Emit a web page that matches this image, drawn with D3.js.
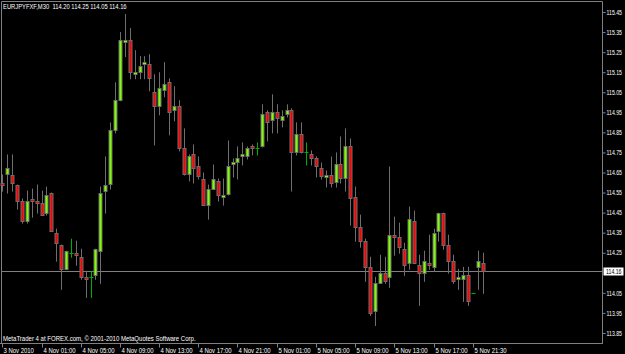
<!DOCTYPE html>
<html>
<head>
<meta charset="utf-8">
<script src="https://cdn.jsdelivr.net/npm/d3@7"></script>
<style>
  html, body { margin: 0; padding: 0; background: #000; }
  svg { display: block; }
  text { font-family: "Liberation Sans", Arial, sans-serif; font-size: 7px; fill: #fff; }
</style>
</head>
<body>
<svg id="chart" width="625" height="354"></svg>
<script>
// EURJPY M30, 3 Nov 2010 21:00 -> 5 Nov 22:30 (one bar per half hour)
const opens = [
  114.60, 114.64, 114.64, 114.59, 114.51, 114.41, 114.52, 114.51, 114.50, 114.45,
  114.55, 114.35, 114.29, 114.17, 114.25, 114.25, 114.23, 114.13, 114.13, 114.14,
  114.26, 114.56, 114.59, 114.86, 115.01, 115.30, 115.31, 115.14, 115.15, 115.19,
  115.19, 115.05, 114.98, 115.06, 115.10, 114.96, 114.98, 114.77, 114.64, 114.74,
  114.68, 114.62, 114.49, 114.57, 114.61, 114.53, 114.54, 114.69, 114.70, 114.73,
  114.73, 114.78, 114.77, 114.78, 114.95, 114.91, 114.95, 114.91, 114.94, 114.96,
  114.75, 114.84, 114.75, 114.74, 114.72, 114.67, 114.63, 114.64, 114.60, 114.69,
  114.62, 114.78, 114.53, 114.38, 114.31, 114.18, 113.96, 114.10, 114.15, 114.13,
  114.34, 114.33, 114.27, 114.20, 114.41, 114.19, 114.15, 114.20, 114.18, 114.36,
  114.45, 114.29, 114.21, 114.12, 114.12, 114.14, 114.05, 114.18, 114.20
];
const highs = [
  114.64, 114.74, 114.74, 114.59, 114.52, 114.56, 114.57, 114.59, 114.56, 114.58,
  114.55, 114.37, 114.29, 114.26, 114.32, 114.31, 114.27, 114.16, 114.16, 114.27,
  114.58, 114.73, 114.90, 115.10, 115.35, 115.44, 115.37, 115.26, 115.23, 115.23,
  115.24, 115.14, 115.15, 115.20, 115.12, 115.08, 115.01, 114.87, 114.74, 114.79,
  114.73, 114.65, 114.59, 114.69, 114.62, 114.62, 114.81, 114.72, 114.78, 114.80,
  114.78, 114.79, 114.80, 114.99, 114.96, 115.04, 114.99, 114.96, 114.99, 114.97,
  114.90, 114.90, 114.80, 114.76, 114.73, 114.70, 114.66, 114.73, 114.75, 114.83,
  114.87, 114.82, 114.58, 114.44, 114.32, 114.23, 114.13, 114.24, 114.23, 114.68,
  114.43, 114.40, 114.30, 114.48, 114.46, 114.24, 114.26, 114.34, 114.37, 114.45,
  114.45, 114.34, 114.24, 114.17, 114.18, 114.18, 114.05, 114.26, 114.25
];
const lows = [
  114.56, 114.55, 114.56, 114.47, 114.40, 114.40, 114.43, 114.45, 114.44, 114.44,
  114.36, 114.21, 114.07, 114.17, 114.23, 114.19, 114.12, 114.03, 114.03, 114.12,
  114.10, 114.45, 114.57, 114.85, 115.01, 115.23, 115.12, 115.12, 115.12, 115.12,
  115.06, 114.79, 114.94, 115.03, 114.84, 114.91, 114.76, 114.64, 114.61, 114.60,
  114.62, 114.49, 114.42, 114.57, 114.51, 114.49, 114.54, 114.63, 114.62, 114.69,
  114.72, 114.74, 114.74, 114.78, 114.81, 114.85, 114.85, 114.88, 114.93, 114.56,
  114.74, 114.75, 114.69, 114.69, 114.63, 114.62, 114.58, 114.58, 114.58, 114.60,
  114.56, 114.39, 114.31, 114.28, 114.11, 113.94, 113.89, 114.10, 114.10, 114.08,
  114.24, 114.25, 114.14, 114.17, 114.20, 113.99, 114.11, 114.17, 114.16, 114.31,
  114.27, 114.15, 114.10, 114.07, 114.01, 113.99, 114.05, 114.07, 114.05
];
const closes = [
  114.59, 114.67, 114.60, 114.51, 114.41, 114.51, 114.51, 114.50, 114.44, 114.54,
  114.36, 114.30, 114.17, 114.26, 114.25, 114.24, 114.13, 114.12, 114.13, 114.27,
  114.55, 114.59, 114.86, 115.01, 115.31, 115.31, 115.15, 115.15, 115.18, 115.20,
  115.12, 114.98, 115.07, 115.09, 114.95, 114.98, 114.77, 114.64, 114.73, 114.67,
  114.63, 114.49, 114.57, 114.62, 114.54, 114.54, 114.68, 114.70, 114.72, 114.74,
  114.77, 114.77, 114.77, 114.94, 114.90, 114.95, 114.92, 114.93, 114.96, 114.75,
  114.84, 114.75, 114.75, 114.72, 114.68, 114.63, 114.64, 114.60, 114.69, 114.62,
  114.78, 114.52, 114.38, 114.31, 114.18, 113.95, 114.10, 114.15, 114.11, 114.34,
  114.33, 114.28, 114.19, 114.42, 114.20, 114.15, 114.21, 114.19, 114.35, 114.45,
  114.29, 114.21, 114.11, 114.13, 114.14, 114.01, 114.05, 114.21, 114.16
];

const symbolTitle = "EURJPYFXF,M30  114.20 114.25 114.05 114.16";
const copyright = "MetaTrader 4 at FOREX.com, \u00a9 2001-2010 MetaQuotes Software Corp.";
const bidPrice = 114.16;
const priceTicks = [115.45, 115.35, 115.25, 115.15, 115.05, 114.95, 114.85, 114.75,
                    114.65, 114.55, 114.45, 114.35, 114.25, 114.05, 113.95, 113.85];
const timeTickBars = [0, 8, 16, 24, 32, 40, 48, 56, 64, 72, 80, 88, 96];
const timeTickLabels = ["3 Nov 2010", "4 Nov 01:00", "4 Nov 05:00", "4 Nov 09:00",
  "4 Nov 13:00", "4 Nov 17:00", "4 Nov 21:00", "5 Nov 01:00", "5 Nov 05:00",
  "5 Nov 09:00", "5 Nov 13:00", "5 Nov 17:00", "5 Nov 21:30"];

const W = 625, H = 354;
const plotRight = 602, plotBottom = 343;
const gridColor = "#808080";
const wickColor = "#6e6e6e";
const upColor = "#7fff00", downColor = "#ff0000", dojiColor = "#00b000";

const svg = d3.select("#chart");
svg.append("rect").attr("width", W).attr("height", H).attr("fill", "#000");

// the terminal's bitmap font is narrow: squeeze each text horizontally
function squeeze(sel, k) {
  sel.each(function () {
    const w = this.getComputedTextLength();
    d3.select(this).attr("textLength", (w * k).toFixed(1)).attr("lengthAdjust", "spacingAndGlyphs");
  });
}

const bars = d3.range(opens.length).map(i => ({
  i, o: opens[i], h: highs[i], l: lows[i], c: closes[i]
}));

const x = d3.scaleLinear().domain([0, 98]).range([2.3, 482.5]);
const y = d3.scaleLinear().domain([113.80, 115.50]).range([plotBottom, 2]);
const px = v => Math.round(x(v)) + 0.5;

// frame
svg.append("path")
  .attr("d", `M1.5,${plotBottom + 0.5}V1.5H${plotRight + 0.5}V${plotBottom + 0.5}`)
  .attr("fill", "none").attr("stroke", gridColor);
svg.append("line")
  .attr("x1", 0).attr("x2", plotRight + 1)
  .attr("y1", plotBottom + 0.5).attr("y2", plotBottom + 0.5)
  .attr("stroke", gridColor);

// bid line
const bidY = Math.round(y(bidPrice)) + 0.5;
svg.append("line")
  .attr("x1", 2).attr("x2", plotRight)
  .attr("y1", bidY).attr("y2", bidY)
  .attr("stroke", gridColor);

// candles
const g = svg.append("g");
const isDoji = d => Math.abs(d.o - d.c) < 0.005;

g.selectAll("line.wick")
  .data(bars)
  .join("line")
  .attr("class", "wick")
  .attr("x1", d => px(d.i)).attr("x2", d => px(d.i))
  .attr("y1", d => y(d.h)).attr("y2", d => y(d.l) + 1)
  .attr("stroke", d => isDoji(d) ? dojiColor : wickColor);

g.selectAll("rect.body")
  .data(bars.filter(d => !isDoji(d)))
  .join("rect")
  .attr("class", "body")
  .attr("x", d => px(d.i) - 1.5)
  .attr("width", 3)
  .attr("y", d => Math.round(y(Math.max(d.o, d.c))) + 0.5)
  .attr("height", d => Math.max(1, Math.round(Math.abs(y(d.o) - y(d.c)))))
  .attr("fill", d => d.c > d.o ? upColor : downColor)
  .attr("stroke", wickColor)
  .attr("stroke-width", 1);

g.selectAll("line.doji")
  .data(bars.filter(isDoji))
  .join("line")
  .attr("class", "doji")
  .attr("x1", d => px(d.i) - 2).attr("x2", d => px(d.i) + 2)
  .attr("y1", d => Math.round(y(d.o)) + 0.5).attr("y2", d => Math.round(y(d.o)) + 0.5)
  .attr("stroke", dojiColor);

// price axis
const yAxis = d3.axisRight(y)
  .tickValues(priceTicks)
  .tickFormat(d3.format(".2f"))
  .tickSize(3)
  .tickPadding(1);
const ya = svg.append("g")
  .attr("transform", `translate(${plotRight + 0.5},0)`)
  .call(yAxis);
ya.select(".domain").remove();
ya.selectAll(".tick line").attr("stroke", gridColor);
ya.selectAll(".tick text").attr("fill", "#fff").attr("font-size", null).attr("font-family", null)
  .call(squeeze, 0.74);

// bid label
const bidG = svg.append("g").attr("transform", `translate(${plotRight + 1},${bidY})`);
bidG.append("rect")
  .attr("x", 0.5).attr("y", -4).attr("width", 20).attr("height", 8)
  .attr("fill", "#fff");
bidG.append("text")
  .attr("x", 3).attr("dy", "0.32em")
  .style("fill", "#000")
  .text(d3.format(".2f")(bidPrice))
  .call(squeeze, 0.74);

// time axis
const xAxis = d3.axisBottom(x)
  .tickValues(timeTickBars)
  .tickFormat((d, k) => timeTickLabels[k])
  .tickSize(4)
  .tickPadding(1);
const xa = svg.append("g")
  .attr("transform", `translate(0,${plotBottom + 0.5})`)
  .call(xAxis);
xa.select(".domain").remove();
xa.selectAll(".tick").attr("transform", d => `translate(${px(d)},0)`);
xa.selectAll(".tick line").attr("stroke", gridColor);
xa.selectAll(".tick text")
  .attr("text-anchor", "start")
  .attr("x", 1)
  .attr("fill", "#fff").attr("font-size", null).attr("font-family", null)
  .call(squeeze, 0.85);

// header + footer text
svg.append("text")
  .attr("x", 3).attr("y", 9)
  .style("white-space", "pre")
  .text(symbolTitle)
  .call(squeeze, 0.83);
svg.append("text")
  .attr("x", 3).attr("y", 340.5)
  .text(copyright)
  .call(squeeze, 0.86);
</script>
</body>
</html>
